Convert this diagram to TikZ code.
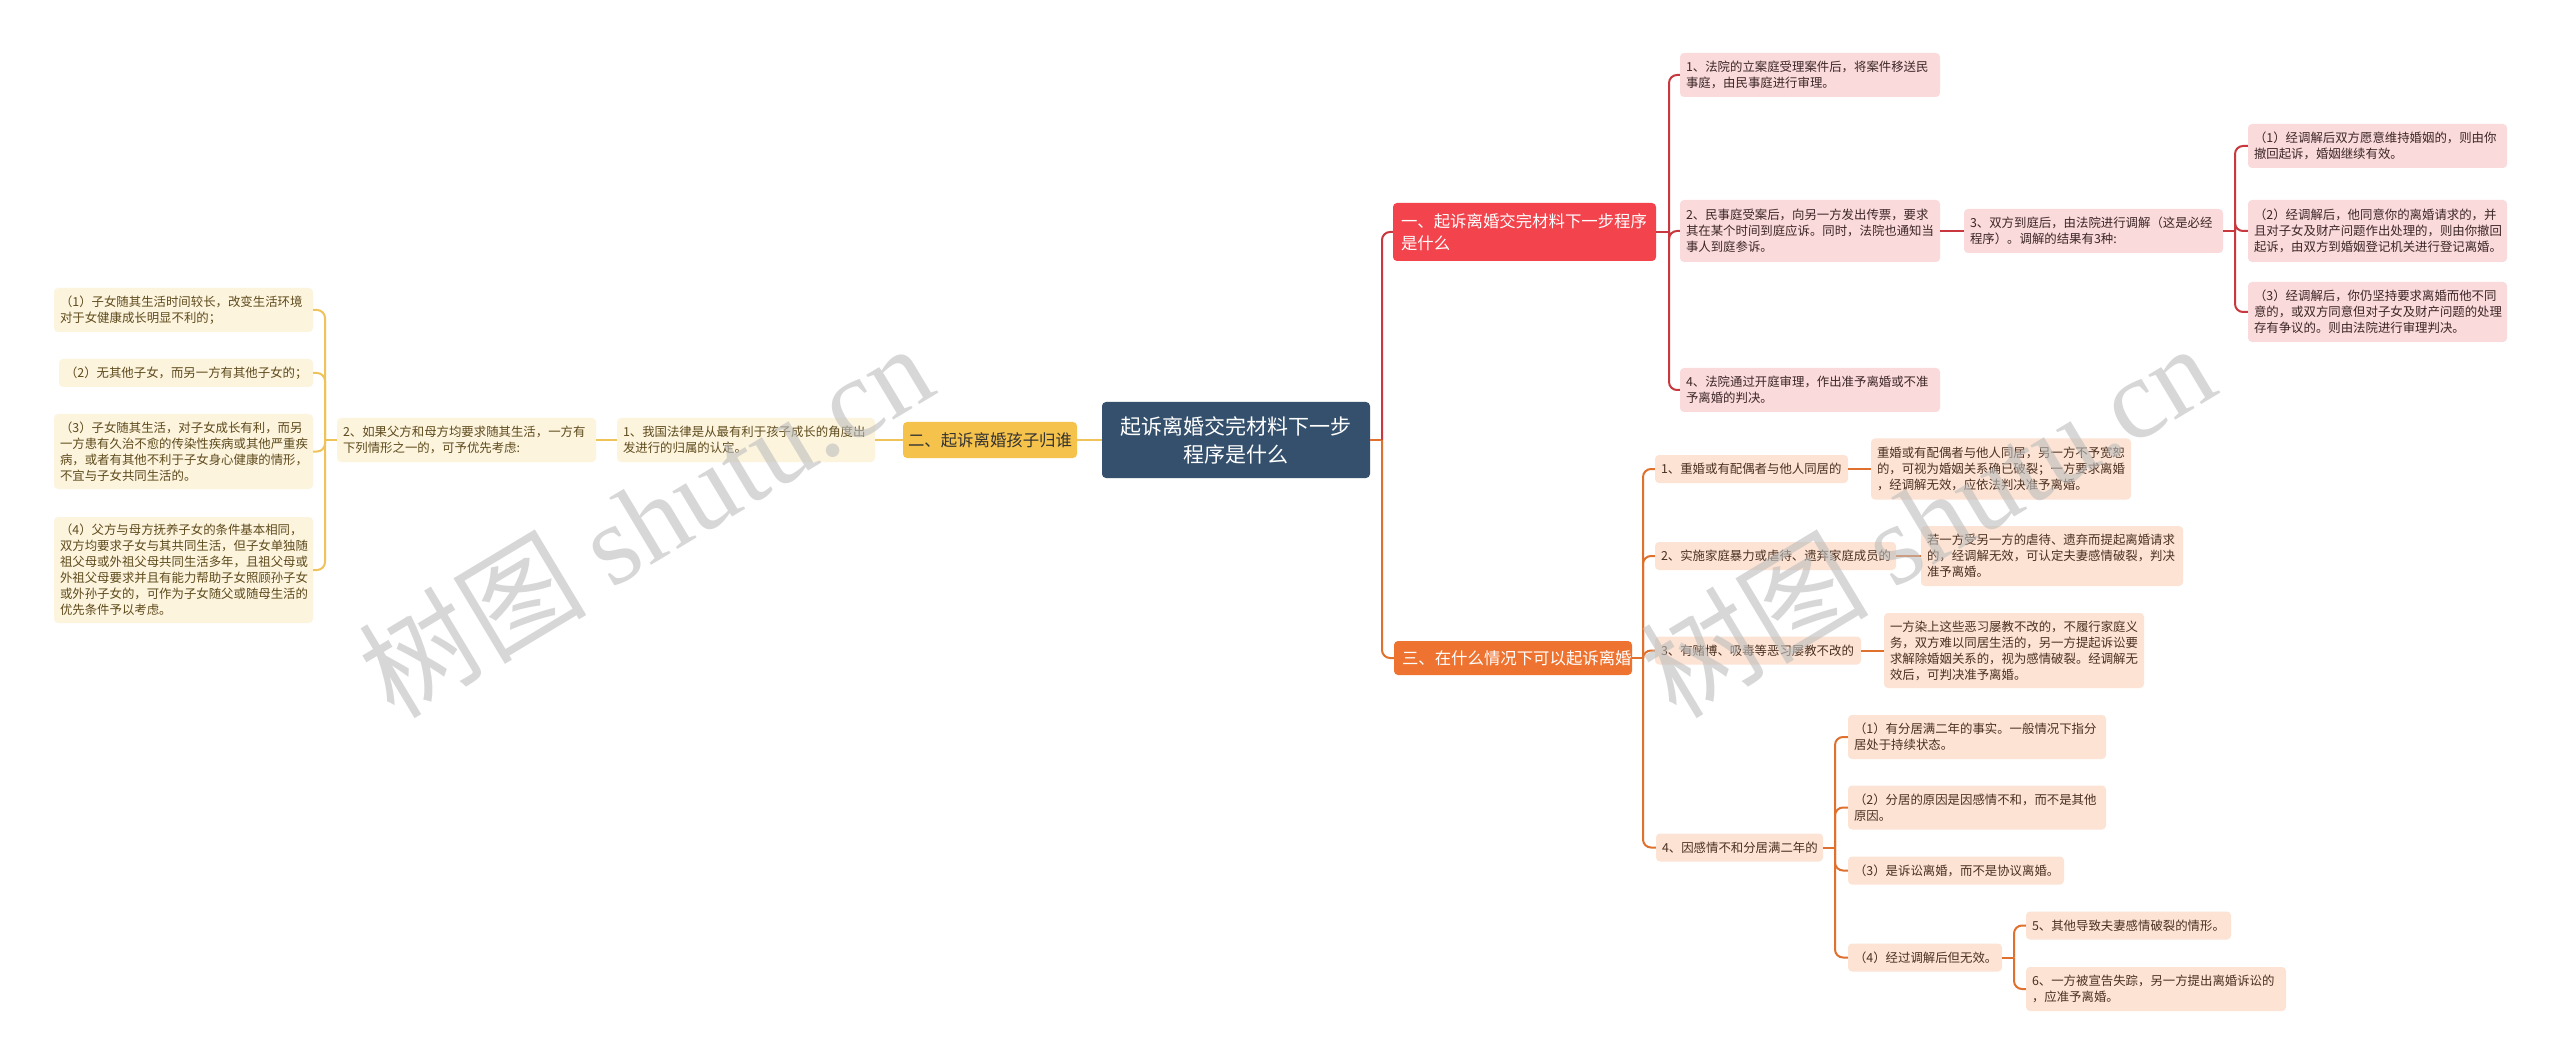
\documentclass[tikz,border=0pt]{standalone}
\usepackage{fontspec}
\setmainfont{Noto Sans CJK SC}
\newfontfamily\wmlatin{Liberation Serif}
\definecolor{rootc}{HTML}{34506D}
\definecolor{ybr}{HTML}{F5C24C}
\definecolor{yleafc}{HTML}{FDF4DE}
\definecolor{ylinec}{HTML}{EFC35A}
\definecolor{ytext}{HTML}{5E4B1C}
\definecolor{rbr}{HTML}{F3434C}
\definecolor{rleafc}{HTML}{FBDADB}
\definecolor{rlinec}{HTML}{C8383E}
\definecolor{rtext}{HTML}{3B2626}
\definecolor{obr}{HTML}{EF7330}
\definecolor{oleafc}{HTML}{FCE3D4}
\definecolor{olinec}{HTML}{E0702E}
\definecolor{otext}{HTML}{4A3020}
\definecolor{wmc}{HTML}{BDBDBD}
\tikzset{
  base/.style={rounded corners=4pt, inner xsep=6pt, inner ysep=2pt, align=left, anchor=center},
  leaffont/.style={font=\fontsize{12.4}{16}\selectfont},
  yleaf/.style={base, leaffont, fill=yleafc, text=ytext},
  rleaf/.style={base, leaffont, fill=rleafc, text=rtext},
  oleaf/.style={base, leaffont, fill=oleafc, text=otext},
  brfont/.style={font=\fontsize{16.4}{22}\selectfont},
  conY/.style={draw=ylinec, line width=2pt, rounded corners=8pt},
  conR/.style={draw=rlinec, line width=2pt, rounded corners=8pt},
  conO/.style={draw=olinec, line width=2pt, rounded corners=8pt},
  wmark/.style={rotate=31, text=wmc, opacity=0.6, font=\fontsize{114}{114}\selectfont},
}
\begin{document}
\begin{tikzpicture}[x=1pt,y=-1pt]
\useasboundingbox (0,0) rectangle (2560,1064);
\fill[white] (0,0) rectangle (2560,1064);

% root
\node[base, fill=rootc, text=white, align=center, text width=256pt, minimum height=76pt,
  font=\fontsize{21}{28}\selectfont] (root) at (1236,440) {起诉离婚交完材料下一步\\程序是什么};

% ---------- left (yellow) ----------
\node[base, brfont, fill=ybr, text=black!80, align=center, inner xsep=5pt, text width=164pt, minimum height=36pt] (B2) at (990,440) {二、起诉离婚孩子归谁};
\node[yleaf, text width=246pt, minimum height=44pt] (L1) at (746,440) {1、我国法律是从最有利于孩子成长的角度出\\发进行的归属的认定。};
\node[yleaf, text width=247pt, minimum height=44pt] (L2) at (466.5,440) {2、如果父方和母方均要求随其生活，一方有\\下列情形之一的，可予优先考虑:};
\node[yleaf, text width=247pt, minimum height=44pt] (LL1) at (183.5,310) {（1）子女随其生活时间较长，改变生活环境\\对于女健康成长明显不利的；};
\node[yleaf, text width=242pt, minimum height=28pt] (LL2) at (186,373) {（2）无其他子女，而另一方有其他子女的；};
\node[yleaf, text width=247pt, minimum height=75pt] (LL3) at (183.5,451.5) {（3）子女随其生活，对子女成长有利，而另\\一方患有久治不愈的传染性疾病或其他严重疾\\病，或者有其他不利于子女身心健康的情形，\\不宜与子女共同生活的。};
\node[yleaf, text width=247pt, minimum height=106pt] (LL4) at (183.5,570) {（4）父方与母方抚养子女的条件基本相同，\\双方均要求子女与其共同生活，但子女单独随\\祖父母或外祖父母共同生活多年，且祖父母或\\外祖父母要求并且有能力帮助子女照顾孙子女\\或外孙子女的，可作为子女随父或随母生活的\\优先条件予以考虑。};

\draw[conY] (root.west) -- (B2.east);
\draw[conY] (B2.west) -- (L1.east);
\draw[conY] (L1.west) -- (L2.east);
\coordinate (tL) at (325,440);
\draw[conY] (L2.west) -- (tL);
\draw[conY] (tL) |- (LL1.east);
\draw[conY] (tL) |- (LL2.east);
\draw[conY] (tL) |- (LL3.east);
\draw[conY] (tL) |- (LL4.east);

% ---------- right top (red) ----------
\node[base, brfont, fill=rbr, text=white, inner xsep=8pt, text width=247pt, minimum height=58pt] (R) at (1524.5,232) {一、起诉离婚交完材料下一步程序\\是什么};
\node[rleaf, text width=248pt, minimum height=44pt] (RL1) at (1810,75) {1、法院的立案庭受理案件后，将案件移送民\\事庭，由民事庭进行审理。};
\node[rleaf, text width=248pt, minimum height=62pt] (RL2) at (1810,231) {2、民事庭受案后，向另一方发出传票，要求\\其在某个时间到庭应诉。同时，法院也通知当\\事人到庭参诉。};
\node[rleaf, text width=248pt, minimum height=44pt] (RL4) at (1810,390) {4、法院通过开庭审理，作出准予离婚或不准\\予离婚的判决。};
\node[rleaf, text width=247pt, minimum height=44pt] (RL3) at (2093.5,231) {3、双方到庭后，由法院进行调解（这是必经\\程序）。调解的结果有3种:};
\node[rleaf, text width=247pt, minimum height=44pt] (S1) at (2377.5,146) {（1）经调解后双方愿意维持婚姻的，则由你\\撤回起诉，婚姻继续有效。};
\node[rleaf, text width=247pt, minimum height=62pt] (S2) at (2377.5,231) {（2）经调解后，他同意你的离婚请求的，并\\且对子女及财产问题作出处理的，则由你撤回\\起诉，由双方到婚姻登记机关进行登记离婚。};
\node[rleaf, text width=247pt, minimum height=60pt] (S3) at (2377.5,312) {（3）经调解后，你仍坚持要求离婚而他不同\\意的，或双方同意但对子女及财产问题的处理\\存有争议的。则由法院进行审理判决。};

\coordinate (tRoot) at (1382,440);
\draw[conO] (root.east) -- (tRoot);
\draw[conR] (tRoot) |- (R.west);
\coordinate (tR) at (1669,232);
\draw[conR] (R.east) -- (tR);
\draw[conR] (tR) |- (RL1.west);
\draw[conR] (tR) |- (RL2.west);
\draw[conR] (tR) |- (RL4.west);
\draw[conR] (RL2.east) -- (RL3.west);
\coordinate (tS) at (2235,231);
\draw[conR] (RL3.east) -- (tS);
\draw[conR] (tS) |- (S1.west);
\draw[conR] (tS) |- (S2.west);
\draw[conR] (tS) |- (S3.west);

% ---------- right bottom (orange) ----------
\node[base, brfont, fill=obr, text=white, inner xsep=8pt, text width=222pt, minimum height=34pt] (O) at (1513,658) {三、在什么情况下可以起诉离婚};
\node[oleaf, text width=181pt, minimum height=28pt] (I1) at (1751.5,469) {1、重婚或有配偶者与他人同居的};
\node[oleaf, text width=248pt, minimum height=61pt] (D1) at (2001,469) {重婚或有配偶者与他人同居，另一方不予宽恕\\的，可视为婚姻关系确已破裂；一方要求离婚\\，经调解无效，应依法判决准予离婚。};
\node[oleaf, text width=229pt, minimum height=28pt] (I2) at (1775.5,556) {2、实施家庭暴力或虐待、遗弃家庭成员的};
\node[oleaf, text width=250pt, minimum height=60pt] (D2) at (2052,556) {若一方受另一方的虐待、遗弃而提起离婚请求\\的，经调解无效，可认定夫妻感情破裂，判决\\准予离婚。};
\node[oleaf, text width=194pt, minimum height=28pt] (I3) at (1758,650.5) {3、有赌博、吸毒等恶习屡教不改的};
\node[oleaf, text width=248pt, minimum height=75pt] (D3) at (2014,650.5) {一方染上这些恶习屡教不改的，不履行家庭义\\务，双方难以同居生活的，另一方提起诉讼要\\求解除婚姻关系的，视为感情破裂。经调解无\\效后，可判决准予离婚。};
\node[oleaf, text width=155pt, minimum height=28pt] (I4) at (1739.5,847.5) {4、因感情不和分居满二年的};
\node[oleaf, text width=246pt, minimum height=44pt] (F1) at (1977,737) {（1）有分居满二年的事实。一般情况下指分\\居处于持续状态。};
\node[oleaf, text width=246pt, minimum height=44pt] (F2) at (1977,807.5) {（2）分居的原因是因感情不和，而不是其他\\原因。};
\node[oleaf, text width=204pt, minimum height=28pt] (F3) at (1956,870.5) {（3）是诉讼离婚，而不是协议离婚。};
\node[oleaf, text width=142pt, minimum height=28pt] (F4) at (1925,957.5) {（4）经过调解后但无效。};
\node[oleaf, text width=193pt, minimum height=28pt] (G5) at (2128.5,925.5) {5、其他导致夫妻感情破裂的情形。};
\node[oleaf, text width=248pt, minimum height=44pt] (G6) at (2156,989) {6、一方被宣告失踪，另一方提出离婚诉讼的\\，应准予离婚。};

\draw[conO] (tRoot) |- (O.west);
\coordinate (tO) at (1643,658);
\draw[conO] (O.east) -- (tO);
\draw[conO] (tO) |- (I1.west);
\draw[conO] (tO) |- (I2.west);
\draw[conO] (tO) |- (I3.west);
\draw[conO] (tO) |- (I4.west);
\draw[conO] (I1.east) -- (D1.west);
\draw[conO] (I2.east) -- (D2.west);
\draw[conO] (I3.east) -- (D3.west);
\coordinate (t4) at (1835,847.5);
\draw[conO] (I4.east) -- (t4);
\draw[conO] (t4) |- (F1.west);
\draw[conO] (t4) |- (F2.west);
\draw[conO] (t4) |- (F3.west);
\draw[conO] (t4) |- (F4.west);
\coordinate (t5) at (2014,957.5);
\draw[conO] (F4.east) -- (t5);
\draw[conO] (t5) |- (G5.west);
\draw[conO] (t5) |- (G6.west);

% ---------- watermarks ----------
\node[wmark] (wm1) at (645,519) {树图 {\wmlatin shutu.cn}};
\node[wmark] (wm2) at (1927,519) {树图 {\wmlatin shutu.cn}};
\end{tikzpicture}
\end{document}
